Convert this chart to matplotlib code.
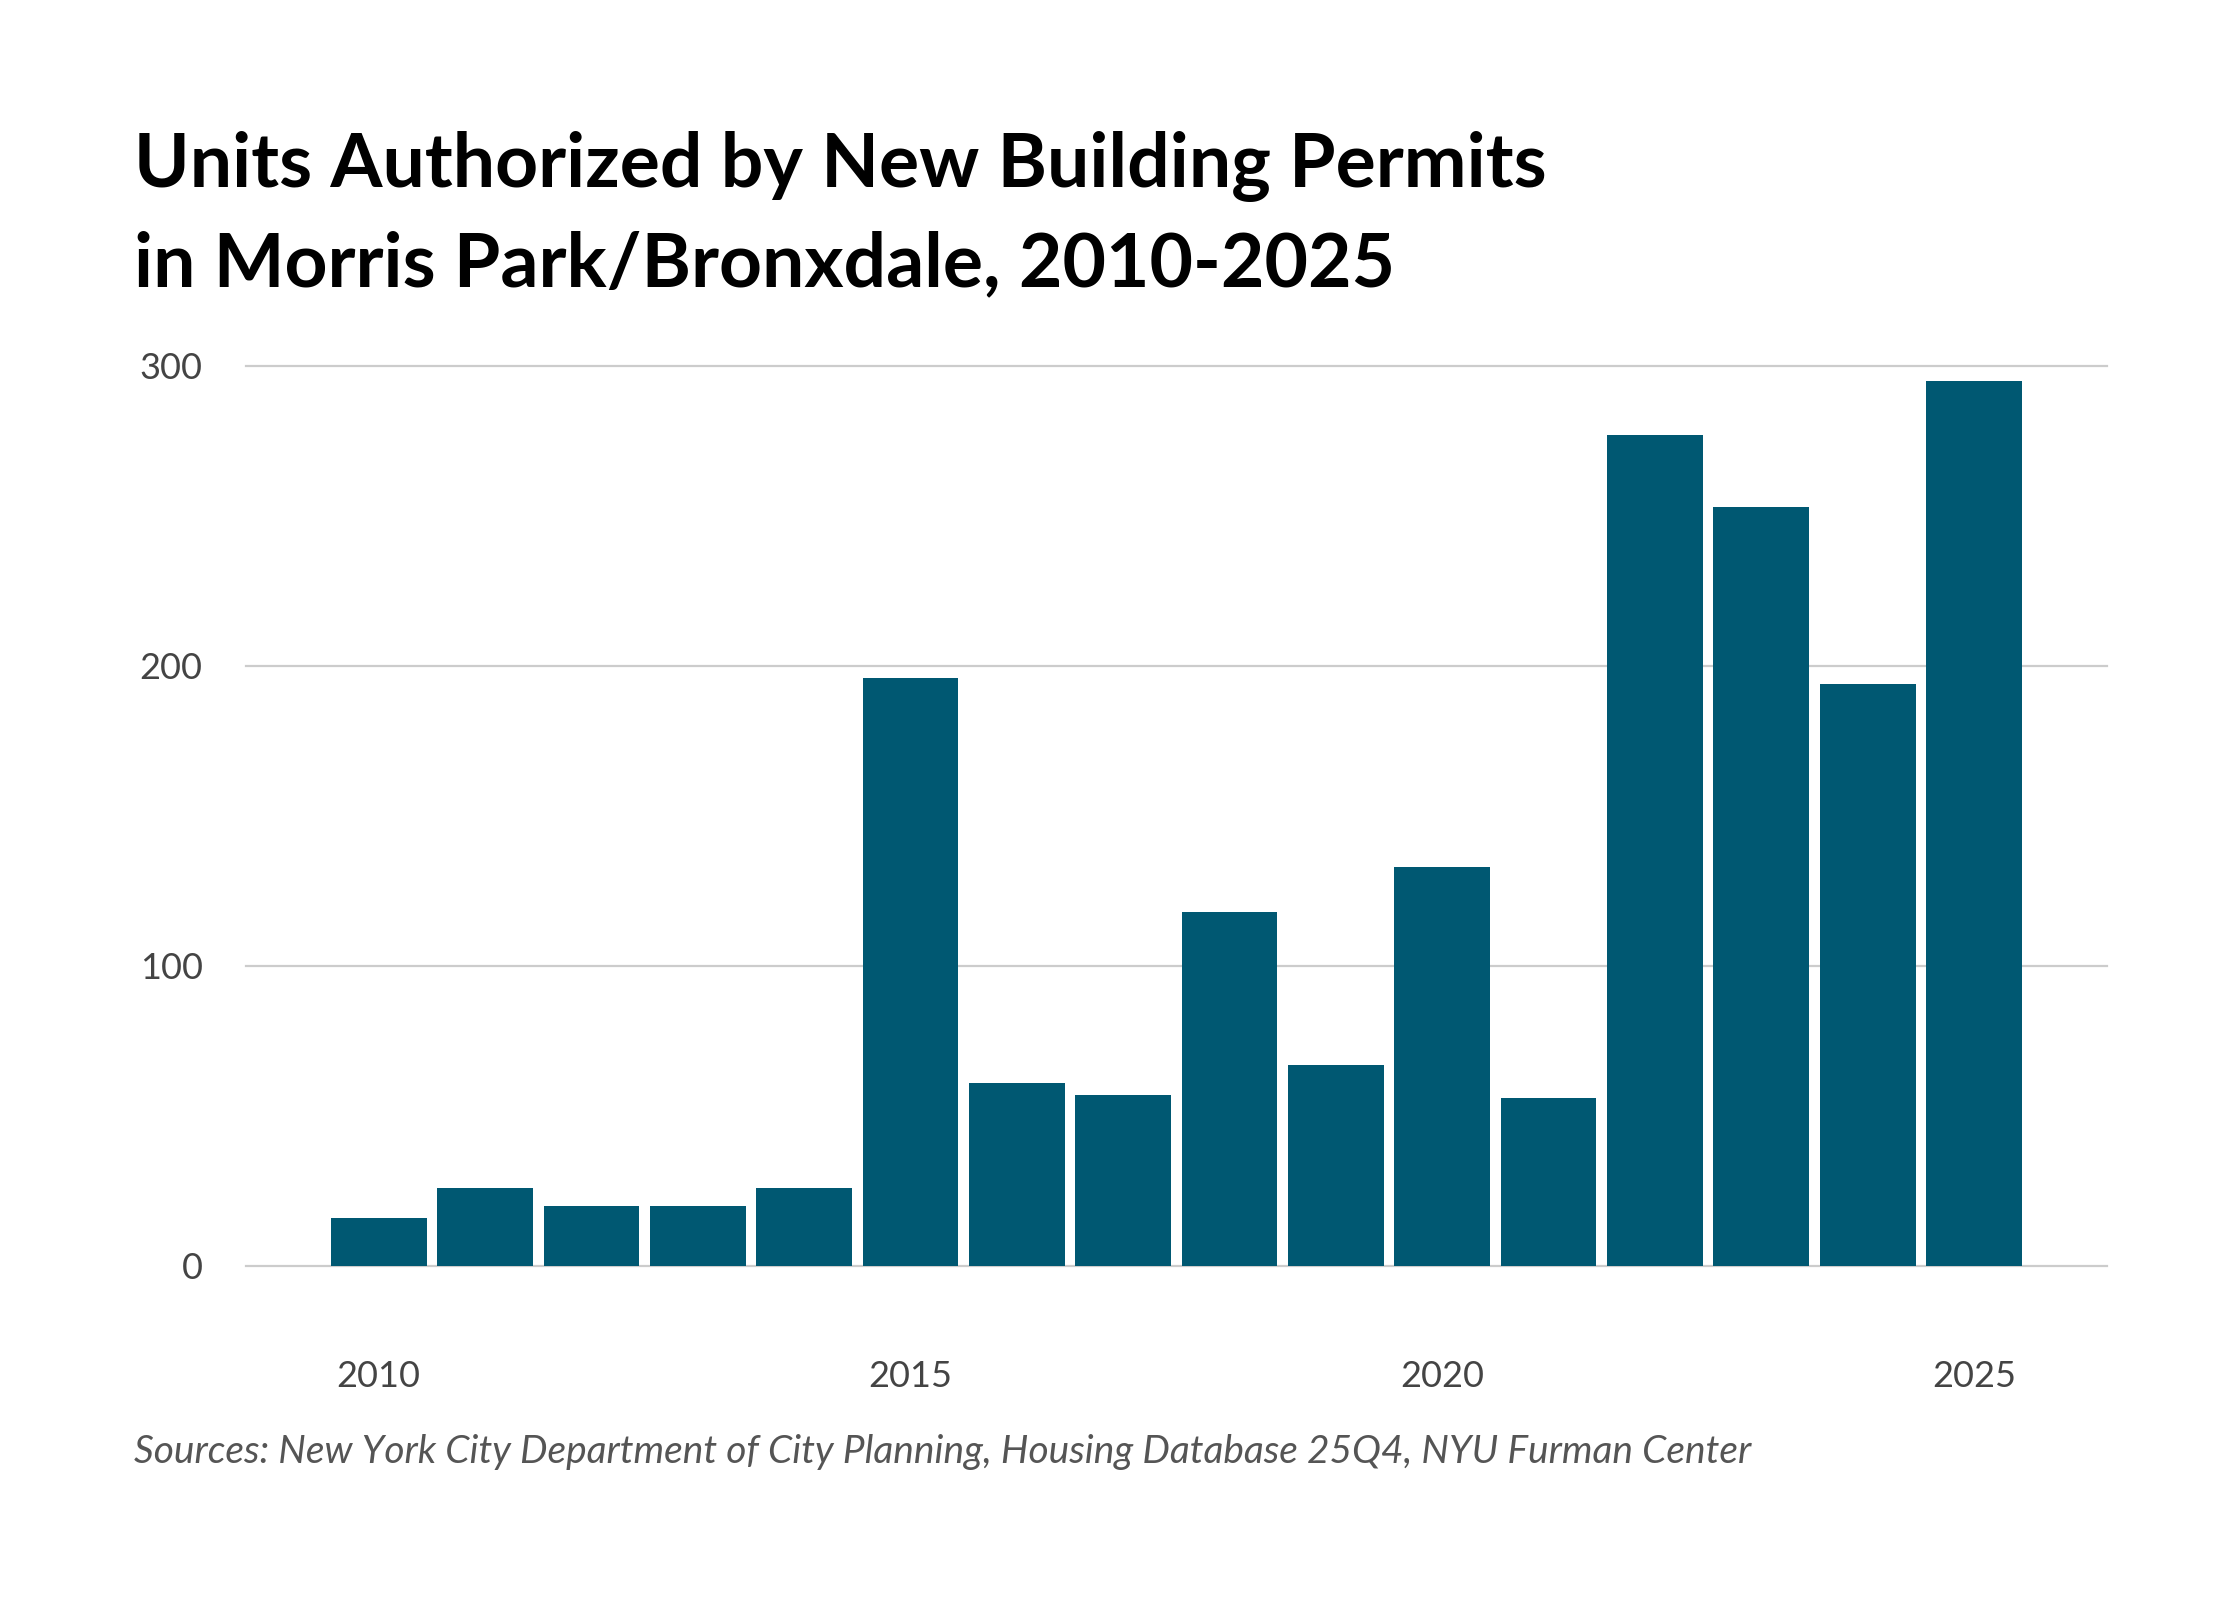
import matplotlib
matplotlib.use('Agg')
import matplotlib.pyplot as plt

years = list(range(2010, 2026))
units = [16, 26, 20, 20, 26, 196, 61, 57, 118, 67, 133, 56, 277, 253, 194, 295]
x_ticks = [2010, 2015, 2020, 2025]
y_ticks = [0, 100, 200, 300]

title = 'Units Authorized by New Building Permits\nin Morris Park/Bronxdale, 2010-2025'
source = 'Sources: New York City Department of City Planning, Housing Database 25Q4, NYU Furman Center'

bar_color = '#005872'
grid_color = '#cccccc'
tick_color = '#444444'

fig = plt.figure(figsize=(22.4, 16), dpi=100)
ax = fig.add_axes([0.1097, 0.2089, 0.8309, 0.5625])

ax.bar(years, units, width=0.9, color=bar_color, zorder=2)

ax.set_xlim(2008.75, 2026.25)
ax.set_ylim(0, 300)
ax.set_xticks(x_ticks)
ax.set_yticks(y_ticks)
ax.set_xticklabels([str(t) for t in x_ticks], fontsize=26, color=tick_color, family='Lato')
ax.set_yticklabels([str(t) for t in y_ticks], fontsize=26, color=tick_color, family='Lato')
ax.tick_params(axis='x', length=0, pad=68)
ax.tick_params(axis='y', length=0, pad=31)

# horizontal grid only, light grey
ax.grid(axis='y', color=grid_color, linewidth=1.6, zorder=0)
ax.set_axisbelow(True)
for gl in ax.get_ygridlines():
    gl.set_clip_on(False)
for s in ax.spines.values():
    s.set_visible(False)

fig.text(134 / 2240, 1 - 286 / 1600, title, fontsize=54, weight='bold', family='Lato',
         color='black', ha='left', va='baseline', linespacing=1.5)
fig.text(134 / 2240, 1 - 1463 / 1600, source, fontsize=28, style='italic', family='Lato',
         color='#555555', ha='left', va='baseline')

fig.savefig('out.png', dpi=100)
